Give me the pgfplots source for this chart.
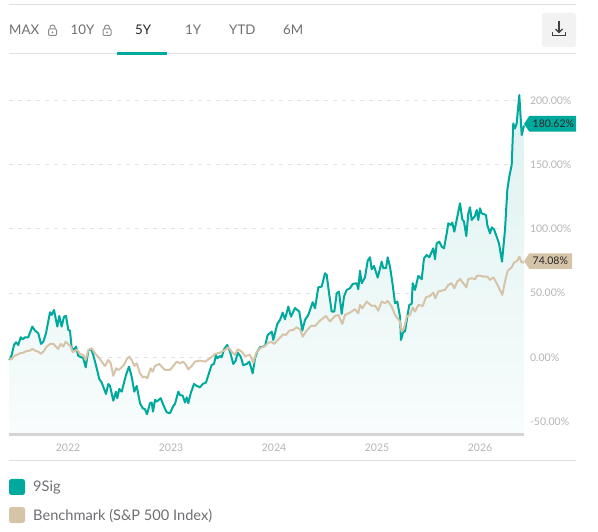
\documentclass[border=0pt]{standalone}
\usepackage{pgfplots}
\pgfplotsset{compat=1.18}
\usepackage{pgfplotstable}
\usepackage{fontspec}
\setmainfont{Lato}
\definecolor{teal9}{HTML}{00A99D}
\definecolor{tan9}{HTML}{D6C4A8}
\definecolor{tick9}{HTML}{B4B4B4}
\definecolor{rule9}{HTML}{E0E0E6}
\definecolor{txt9}{HTML}{6E6E72}
\definecolor{fillTop}{HTML}{DDF2F0}
\definecolor{fillBot}{HTML}{F8FCFC}
\pgfplotstableread{
x y
9.3 -2.1
11.7 1.8
14 9.6
16 11.7
18.3 9.6
20.7 15.6
22.7 14.0
25 15.6
28.3 15.6
32.3 23.9
35 20.8
38.3 18.7
41 10.4
43.3 12.2
46 18.7
50 35.1
51.7 33.0
54 36.9
57.3 23.9
59.3 32.2
61.7 23.9
64 31.7
66 32.2
68.3 21.3
70 20.8
71.7 7.0
74 5.7
76 8.3
78.3 1.0
81.7 0
83.3 -0.8
85.7 -7.8
88.3 5.2
91 6.5
93.3 1.8
96.7 -8.6
99.3 -16.9
101.7 -19.7
106 -28.6
108.3 -20.8
110 -22.3
113.3 -33.8
116 -26.8
117.3 -31.9
119.3 -24.7
121.7 -26.8
126 -13.8
129 -7.3
131.7 -15.1
134.3 -26.8
136.7 -22.3
140 -35.8
142.7 -39.7
145 -40.5
147 -44.4
150 -35.8
151.7 -35.3
153 -42.3
155 -33.2
156.7 -34.5
160.7 -31.9
163.3 -37.1
166.7 -42.9
170 -43.6
173.3 -37.9
175 -36.4
178.3 -26.8
180 -29.4
182.7 -29.9
185 -35.3
186.7 -31.2
188.3 -35.8
190.7 -28.1
194 -20.8
196.7 -22.3
200 -23.4
202.7 -20.8
206 -19.7
210 -9.9
211.7 -6.0
214 -5.2
216 1.8
217.3 -0.8
220 1.0
221.7 0
224 6.2
227.3 9.6
230 4.4
233.3 -5.2
235.7 -2.6
237.7 3.6
240.7 0.5
243.3 -6.2
246.7 -5.2
249.3 -3.4
252.7 -12.5
255 -0.8
257.3 4.4
260 7.8
265 8.8
267.7 17.4
271.7 20.0
273.3 13.5
277.3 26.0
280 29.1
282.7 34.8
285 29.6
288.3 39.5
291 31.7
295 38.4
299.3 35.6
302.3 20.8
305 29.1
308.3 33.0
312.7 42.9
315 38.2
318.3 54.5
321.7 55.1
325 65.5
326.7 64.2
329.3 48.6
331.7 35.6
334.3 35.6
336.7 49.9
339 51.2
341.7 33.8
344 47.3
346.7 52.5
350 53.8
352.7 57.1
356.7 57.7
358.3 53.0
360 67.5
361.7 57.7
365 62.3
367.7 75.3
370 77.9
371.7 68.6
374 71.2
377.7 62.1
381.7 74.5
383.3 69.4
386 69.4
387.7 77.9
390 70.6
392.7 56.4
395 42.1
397.3 43.4
400 31.7
401 13.5
403.3 20.0
405 20.0
407.3 31.7
409.3 40.8
411.7 41.6
412.7 57.7
415 52.5
418.3 63.4
421.7 60.8
424 77.1
426.7 79.7
429.3 77.9
433.3 84.9
435 76.4
436.7 88.8
439.3 90.1
441.7 86.2
444 84.9
446.7 96.6
448.3 104.4
450.7 103.1
452.3 104.9
454.3 97.9
457.3 109.6
460 120
462.3 107.5
464 105.7
466.3 94.5
468.3 112.2
470 116.9
471.7 107
475 110.1
476.7 114.8
478.3 107
480 116.1
481.7 112.2
486 110.9
487.3 103.1
490 96.6
491.7 101.3
494 99.7
496.7 94
499 88.8
502 74.5
505 99.2
507.3 130.4
509.3 140.8
511.7 149.9
513.3 182.3
515 178.4
516.7 182.3
519.3 204.4
521.7 173.2
524 180.62
}\tealdata
\pgfplotstableread{
x y
9.3 -0.8
11.7 -1.6
14 1.0
16.7 1.8
20 3.1
23.3 3.6
26.7 4.9
30 5.2
32.3 6.5
35 5.2
38.3 4.4
40.7 2.6
43.3 4.4
46.7 8.3
50 10.4
53.3 10.4
56 8.3
58.3 6.5
60.7 10.4
63.3 8.3
65.7 12.2
68.3 10.1
70.7 8.3
72.7 3.9
75 5.2
77.3 5.7
80 2.6
83.3 1.8
85.7 -2.1
88.3 5.7
91.7 7.0
95 3.1
99.3 -0.8
101.7 -3.4
105 -6.8
108.3 -2.1
110.7 -4.7
113.3 -14.5
116 -8.6
118.3 -9.9
120.7 -8.6
124 -6.0
126.7 -1.6
129.3 0.5
131.7 -2.1
134.3 -6.8
136.7 -4.7
140 -12.5
142.7 -15.6
145 -15.1
147.3 -16.4
150.7 -8.6
152.7 -11.2
155 -6.8
159.3 -5.2
161.7 -7.3
165 -9.9
170 -9.9
173.3 -6.8
176.7 -3.4
180 -4.7
183.3 -3.4
186 -6.0
188.3 -9.4
191.7 -6.8
195 -3.4
200 -2.6
205 -3.4
210 -0.8
215 2.6
220 3.6
225 5.7
228.3 7.8
231.7 4.4
235 1.8
237.7 6.2
241.7 4.4
245 1.0
250 1.8
253.3 -4.2
256 3.1
260 7.0
265 8.8
268.3 11.4
271.7 11.9
274 10.4
278.3 14.0
283.3 17.9
286 17.4
289.3 20.8
293.3 21.3
296.7 23.4
300 21.8
302.7 16.1
306.7 20.8
311 24.4
315 24.4
320 28.6
326 32.2
330 27.8
335 32.2
338.3 33.0
342.3 26.0
345 33.0
350 34.8
355 37.4
358.3 34.3
360 40.8
362.3 38.2
366.7 43.4
371.7 40.0
375 40.3
378.3 36.4
381.7 43.4
385 42.1
387.7 43.9
391.7 39.5
395 33.0
400 27.8
401.7 20
404 22.6
406.7 31.7
410 33
412.7 39
415 35.6
418.3 40.8
422.7 40
426 46.8
430 47.8
433.3 50.4
435.3 46
438.3 51.2
441.7 51.9
445 52.5
448.3 56.4
451.7 57.7
454.3 53.8
457.3 59
460 61
463.3 57.7
466.3 54.5
468.3 61
471.7 61.6
475 60.8
476.7 63.4
480 63.6
483.3 62.9
487.3 62.9
490 60.3
493.3 62.3
496.7 57.7
502.3 48.6
505 59
507.7 67.5
511.7 70.1
514 73.8
517.3 75.3
519.3 78.4
521.7 73.8
524 74.08
}\tandata
\newcommand{\lockicon}[1]{%
  \begin{scope}[shift={(#1,500.5)},draw=black!45,line width=1pt]
    \draw[rounded corners=1pt] (-4,-5) rectangle (4,1.5);
    \draw (-2.5,1.5) -- (-2.5,3) arc (180:0:2.5) -- (2.5,1.5);
    \fill[black!45] (0,-1.8) circle (1);
  \end{scope}}
\begin{document}
\begin{tikzpicture}[x=1pt,y=1pt]
\useasboundingbox (0,0) rectangle (598,531);
\begin{axis}[
  at={(9pt,97pt)},anchor=south west,
  width=515pt,height=344pt,scale only axis,
  xmin=9,xmax=524,ymin=-59.8,ymax=208.3,
  axis x line*=bottom,axis y line*=right,
  x axis line style={draw=none,-},
  y axis line style={draw=none,-},
  xtick={68,171,274,377,480},
  xticklabels={2022,2023,2024,2025,2026},
  ytick={-50,0,50,100,150,200},
  yticklabels={-50.00\%,0.00\%,50.00\%,100.00\%,150.00\%,200.00\%},
  major tick length=0pt,
  ymajorgrids,
  grid style={dash pattern=on 4pt off 5pt,draw=black!11,line width=1pt},
  tick label style={font=\fontsize{10.5}{12}\selectfont,text=tick9},
  yticklabel style={anchor=west,xshift=2.5pt},
  xticklabel style={yshift=-6pt},
  clip=false,
]
\addplot[draw=none,top color=fillTop,bottom color=fillBot,shading angle=0]
  table[x=x,y=y]{\tealdata} -- (axis cs:524,-59.8) -- (axis cs:9.3,-59.8) -- cycle;
\addplot[color=teal9,line width=2pt,line join=round] table[x=x,y=y]{\tealdata};
\addplot[color=tan9,line width=2pt,line join=round] table[x=x,y=y]{\tandata};
\end{axis}
\draw[black!17,line width=2.2pt] (9,96.5) -- (524,96.5);
% header
\draw[rule9,line width=1pt] (9,526) -- (576,526);
\draw[rule9,line width=1pt] (9,477) -- (576,477);
\fill[teal9] (117,476) rectangle (167,478.5);
\draw[rule9,line width=1pt] (9,70.7) -- (576,70.7);
\begin{scope}[every node/.style={font=\fontsize{13.3}{15}\selectfont,text=txt9,anchor=base west,inner sep=0pt}]
\node at (9,496.5) {MAX};
\node at (70.5,496.5) {10Y};
\node[text=black!85] at (135,496.5) {5Y};
\node at (185,496.5) {1Y};
\node at (229,496.5) {YTD};
\node at (283,496.5) {6M};
\end{scope}
\lockicon{52.5}\lockicon{107}
% download button
\fill[black!5,rounded corners=2.5pt] (542,484) rectangle (576,518);
\begin{scope}[shift={(559,502)},draw=black!75,line width=1.4pt]
\draw (0,8) -- (0,-3);
\draw[line width=1.2pt] (-3.5,0) -- (0,-3.5) -- (3.5,0);
\draw (-6.5,-3) -- (-6.5,-6.5) -- (6.5,-6.5) -- (6.5,-3);
\end{scope}
% value tags
\fill[teal9] (524,407) -- (529.3,415) -- (576,415) -- (576,399.3) -- (529.3,399.3) -- cycle;
\node[anchor=base west,inner sep=0pt,font=\fontsize{10.5}{12}\selectfont,text=black!85] at (532.5,403.5) {180.62\%};
\fill[tan9] (524,270) -- (529.3,277.7) -- (572,277.7) -- (572,262) -- (529.3,262) -- cycle;
\node[anchor=base west,inner sep=0pt,font=\fontsize{10.5}{12}\selectfont,text=black!85] at (532.5,266) {74.08\%};
% legend
\fill[teal9,rounded corners=2.5pt] (9,36) rectangle (25,52);
\fill[tan9,rounded corners=2.5pt] (9,8) rectangle (25,24);
\node[anchor=base west,inner sep=0pt,font=\fontsize{14.6}{16}\selectfont,text=txt9] at (33,39) {9Sig};
\node[anchor=base west,inner sep=0pt,font=\fontsize{14.6}{16}\selectfont,text=txt9] at (33,11) {Benchmark (S\&P 500 Index)};
\end{tikzpicture}
\end{document}
